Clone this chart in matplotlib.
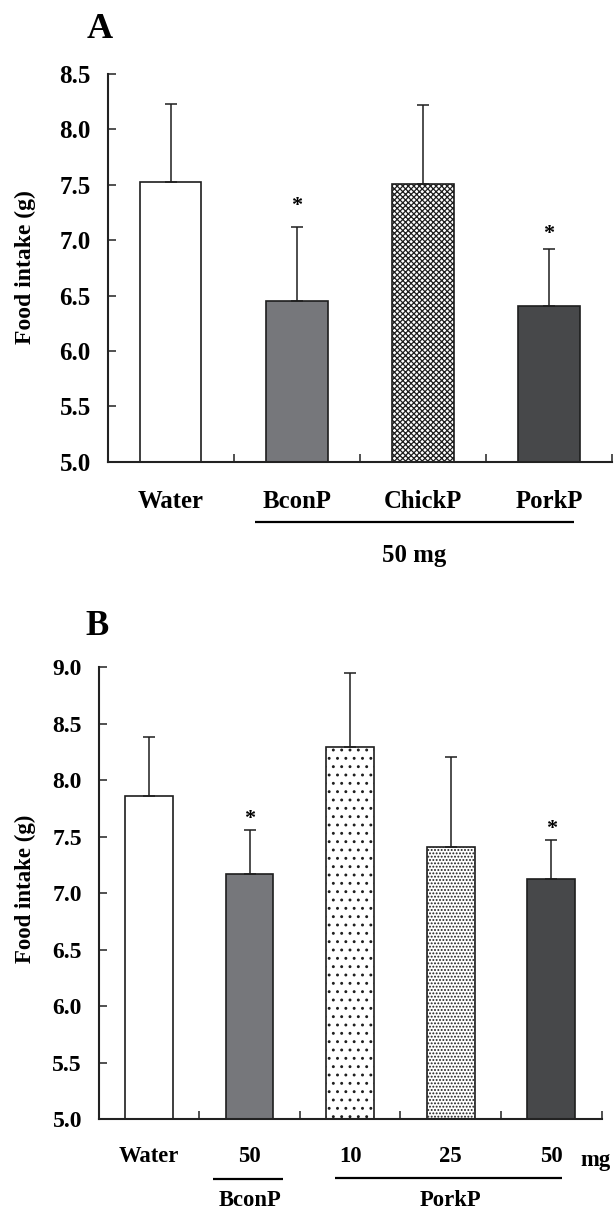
import matplotlib
matplotlib.use("Agg")
import matplotlib.pyplot as plt
import matplotlib.transforms as mtransforms

plt.rcParams['font.family'] = ['Liberation Serif', 'DejaVu Serif']
plt.rcParams['font.weight'] = 'bold'
plt.rcParams['hatch.linewidth'] = 0.9

# ---------------- data ----------------
# Panel A
a_labels = ['Water', 'BconP', 'ChickP', 'PorkP']
a_means = [7.525, 6.45, 7.51, 6.41]
a_err_top = [8.233, 7.12, 8.22, 6.92]
a_star_idx = [1, 3]
a_star_y = [7.35, 7.10]
a_yticks = [5.0, 5.5, 6.0, 6.5, 7.0, 7.5, 8.0, 8.5]

# Panel B
b_labels = ['Water', '50', '10', '25', '50']
b_means = [7.857, 7.171, 8.296, 7.41, 7.125]
b_err_top = [8.386, 7.557, 8.95, 8.207, 7.468]
b_star_idx = [1, 4]
b_star_y = [7.70, 7.61]
b_yticks = [5.0, 5.5, 6.0, 6.5, 7.0, 7.5, 8.0, 8.5, 9.0]

# ---------------- style ----------------
edge = '#1e1e1e'
spine_c = '#222222'
a_fc = ['white', '#76777b', 'white', '#47484a']
a_hatch = [None, None, 'xxxxxx', None]
b_fc = ['white', '#76777b', 'white', 'white', '#47484a']
b_hatch = [None, None, '..', '.....', None]

fig = plt.figure(figsize=(6.15, 12.12), dpi=100)
W, H = 615.0, 1212.0

def style_axes(ax, n, yticks, ylim, tick_fs):
    ax.set_xlim(-0.5, n - 0.5)
    ax.set_ylim(*ylim)
    for s in ['top', 'right']:
        ax.spines[s].set_visible(False)
    for s in ['left', 'bottom']:
        ax.spines[s].set_color(spine_c)
        ax.spines[s].set_linewidth(1.5)
    ax.set_yticks(yticks)
    ax.set_yticklabels(['%.1f' % v for v in yticks], fontsize=tick_fs, fontweight='bold')
    ax.tick_params(axis='y', direction='in', length=6, width=1.1, color=spine_c, pad=12)
    bounds = [i + 0.5 for i in range(n)]
    ax.set_xticks(bounds)
    ax.set_xticklabels([])
    ax.tick_params(axis='x', direction='in', length=6, width=1.1, color=spine_c)

def draw_panel(ax, labels, means, err_top, fc, hatch, star_idx, star_y, bar_w, cap):
    x = list(range(len(labels)))
    bars = ax.bar(x, means, width=bar_w, color=fc, edgecolor=edge, linewidth=1.2, zorder=2)
    for b, h in zip(bars, hatch):
        if h:
            b.set_hatch(h)
    up = [t - m for t, m in zip(err_top, means)]
    low = [0] * len(means)
    ax.errorbar(x, means, yerr=[low, up], fmt='none', ecolor=edge, elinewidth=1.1,
                capsize=cap, capthick=1.1, zorder=3)
    for i, y in zip(star_idx, star_y):
        ax.annotate('*', xy=(i, y), xytext=(0, -7), textcoords='offset points',
                    ha='center', va='baseline', fontsize=16, fontweight='bold')

# ---------------- Panel A ----------------
axA = fig.add_axes([107.5 / W, 1 - 461.7 / H, 504.5 / W, 387.7 / H])
style_axes(axA, 4, a_yticks, (5.0, 8.5), 18)
draw_panel(axA, a_labels, a_means, a_err_top, a_fc, a_hatch, a_star_idx, a_star_y, 0.49, 4.3)
trA = mtransforms.blended_transform_factory(axA.transData, axA.transAxes)
for i, lab in enumerate(a_labels):
    axA.text(i, (461.7 - 508) / 387.7, lab, transform=trA, ha='center', va='baseline',
             fontsize=17.8, fontweight='bold')
axA.plot([0.67, 3.20], [(461.7 - 521.5) / 387.7] * 2, transform=trA, color='black',
         lw=1.6, clip_on=False, solid_capstyle='butt')
axA.text(1.93, (461.7 - 562) / 387.7, '50 mg', transform=trA, ha='center', va='baseline',
         fontsize=17.8, fontweight='bold')
fig.text(99.5 / W, 1 - 38 / H, 'A', ha='center', va='baseline', fontsize=26, fontweight='bold')
fig.text(25 / W, 1 - 267.5 / H, 'Food intake (g)', rotation=90, ha='center', va='center',
         fontsize=17, fontweight='bold')

# ---------------- Panel B ----------------
axB = fig.add_axes([98.7 / W, 1 - 1119 / H, 502.8 / W, 451.7 / H])
style_axes(axB, 5, b_yticks, (5.0, 9.0), 17)
draw_panel(axB, b_labels, b_means, b_err_top, b_fc, b_hatch, b_star_idx, b_star_y, 0.475, 4.0)
trB = mtransforms.blended_transform_factory(axB.transData, axB.transAxes)
for i, lab in enumerate(b_labels):
    axB.text(i, (1119 - 1161.7) / 451.7, lab, transform=trB, ha='center', va='baseline',
             fontsize=16.3, fontweight='bold')
axB.text(4.445, (1119 - 1166) / 451.7, 'mg', transform=trB, ha='center', va='baseline',
         fontsize=16.3, fontweight='bold')
axB.plot([0.637, 1.333], [(1119 - 1179) / 451.7] * 2, transform=trB, color='black',
         lw=1.6, clip_on=False, solid_capstyle='butt')
axB.plot([1.851, 4.104], [(1119 - 1178.3) / 451.7] * 2, transform=trB, color='black',
         lw=1.6, clip_on=False, solid_capstyle='butt')
axB.text(1.0, (1119 - 1206) / 451.7, 'BconP', transform=trB, ha='center', va='baseline',
         fontsize=16.3, fontweight='bold')
axB.text(3.0, (1119 - 1206) / 451.7, 'PorkP', transform=trB, ha='center', va='baseline',
         fontsize=16.3, fontweight='bold')
fig.text(97 / W, 1 - 635 / H, 'B', ha='center', va='baseline', fontsize=25, fontweight='bold')
fig.text(25 / W, 1 - 889 / H, 'Food intake (g)', rotation=90, ha='center', va='center',
         fontsize=16.5, fontweight='bold')

fig.savefig('out.png', dpi=100)
